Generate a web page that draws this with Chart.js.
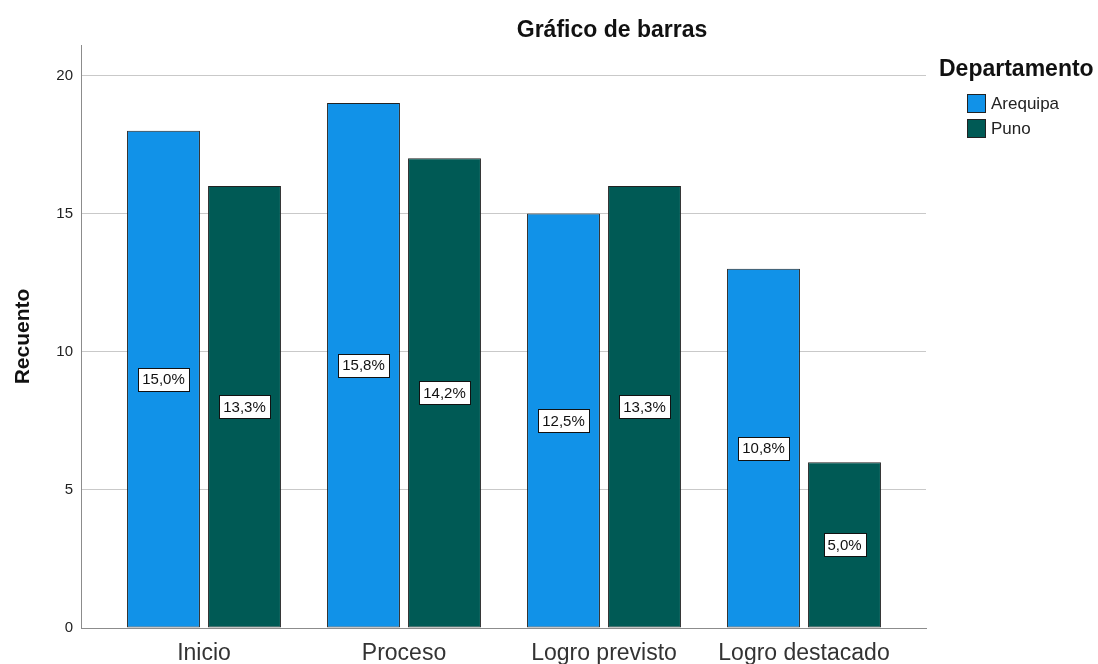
<!DOCTYPE html>
<html lang="es">
<head>
<meta charset="utf-8">
<title>Gráfico de barras</title>
<script src="https://cdn.jsdelivr.net/npm/chart.js@4.4.1/dist/chart.umd.min.js"></script>
<style>
  html, body { margin: 0; padding: 0; background: #fff; }
  #wrap { width: 1098px; height: 664px; }
</style>
</head>
<body>
<div id="wrap"><canvas id="barChart" width="1098" height="664"></canvas></div>
<script>
// data
const categories = ['Inicio', 'Proceso', 'Logro previsto', 'Logro destacado'];
const arequipa = [18, 19, 15, 13];
const puno = [16, 17, 16, 6];
const arequipaPct = ['15,0%', '15,8%', '12,5%', '10,8%'];
const punoPct = ['13,3%', '14,2%', '13,3%', '5,0%'];
const yTicks = [0, 5, 10, 15, 20];

const colors = {
  arequipa: '#1192E8',
  puno: '#005A55',
  border: '#222',
  axis: '#8c8c8c',
  grid: '#c9c9c9',
  text: '#222'
};
const FONT = "'Liberation Sans', Arial, sans-serif";

// percentage boxes in the middle of every bar
const pctLabels = {
  id: 'pctLabels',
  afterDatasetsDraw(chart) {
    const ctx = chart.ctx;
    ctx.save();
    ctx.font = '15px ' + FONT;
    ctx.textAlign = 'center';
    ctx.textBaseline = 'middle';
    chart.data.datasets.forEach((ds, di) => {
      chart.getDatasetMeta(di).data.forEach((bar, i) => {
        const txt = ds.pctLabels[i];
        const w = Math.round(ctx.measureText(txt).width + 8);
        const h = 23;
        const cy = (bar.y + bar.base) / 2;
        const left = Math.round(bar.x - w / 2) + 0.5;
        const top = Math.round(cy - h / 2) + 0.5;
        ctx.fillStyle = '#fff';
        ctx.fillRect(left, top, w, h);
        ctx.strokeStyle = '#111';
        ctx.lineWidth = 1;
        ctx.strokeRect(left, top, w, h);
        ctx.fillStyle = '#111';
        ctx.fillText(txt, bar.x, cy + 1);
      });
    });
    ctx.restore();
  }
};

// title and legend placed like the SPSS output
const decorations = {
  id: 'decorations',
  afterDraw(chart) {
    const ctx = chart.ctx;
    ctx.save();
    ctx.fillStyle = '#111';
    ctx.textBaseline = 'alphabetic';
    ctx.textAlign = 'center';
    ctx.font = 'bold 23px ' + FONT;
    ctx.fillText('Gráfico de barras', 612, 37);

    ctx.textAlign = 'left';
    ctx.fillText('Departamento', 939, 76);

    ctx.font = '17px ' + FONT;
    ctx.textBaseline = 'middle';
    chart.data.datasets.forEach((ds, i) => {
      const y = 94 + i * 25;
      ctx.fillStyle = ds.backgroundColor;
      ctx.fillRect(967.5, y + 0.5, 18, 18);
      ctx.strokeStyle = colors.border;
      ctx.lineWidth = 1;
      ctx.strokeRect(967.5, y + 0.5, 18, 18);
      ctx.fillStyle = colors.text;
      ctx.fillText(ds.label, 991, y + 10);
    });
    ctx.restore();
  }
};

new Chart(document.getElementById('barChart'), {
  type: 'bar',
  data: {
    datasets: [
      {
        label: 'Arequipa',
        data: arequipa.map((v, i) => ({ x: i, y: v })),
        pctLabels: arequipaPct,
        backgroundColor: colors.arequipa,
        borderColor: colors.border,
        borderWidth: 1,
        borderSkipped: false
      },
      {
        label: 'Puno',
        data: puno.map((v, i) => ({ x: i, y: v })),
        pctLabels: punoPct,
        backgroundColor: colors.puno,
        borderColor: colors.border,
        borderWidth: 1,
        borderSkipped: false
      }
    ]
  },
  options: {
    responsive: false,
    animation: false,
    categoryPercentage: 0.81,
    barPercentage: 0.9,
    layout: { padding: { top: 45, right: 172, left: 0, bottom: 0 } },
    plugins: {
      legend: { display: false },
      title: { display: false },
      tooltip: { enabled: false }
    },
    scales: {
      x: {
        type: 'linear',
        offset: false,
        min: -0.615,
        max: 3.61,
        grid: { display: false, offset: false },
        border: { display: true, color: colors.axis, width: 1 },
        afterFit(scale) { scale.height = 36; },
        afterBuildTicks(scale) {
          scale.ticks = categories.map((c, i) => ({ value: i }));
        },
        ticks: {
          padding: 4,
          color: '#333',
          font: { family: FONT, size: 23 },
          maxRotation: 0,
          autoSkip: false,
          callback: (v) => categories[v]
        }
      },
      y: {
        min: 0,
        max: 21.1,
        afterFit(scale) { scale.width = 81; },
        afterBuildTicks(scale) {
          scale.ticks = yTicks.map(v => ({ value: v }));
        },
        grid: { color: colors.grid, drawTicks: false },
        border: { display: true, color: colors.axis, width: 1 },
        ticks: {
          padding: 8,
          color: colors.text,
          font: { family: FONT, size: 15 }
        },
        title: {
          display: true,
          text: 'Recuento',
          color: '#111',
          padding: { top: 11, bottom: 4 },
          font: { family: FONT, size: 21, weight: 'bold' }
        }
      }
    }
  },
  plugins: [pctLabels, decorations]
});
</script>
</body>
</html>
